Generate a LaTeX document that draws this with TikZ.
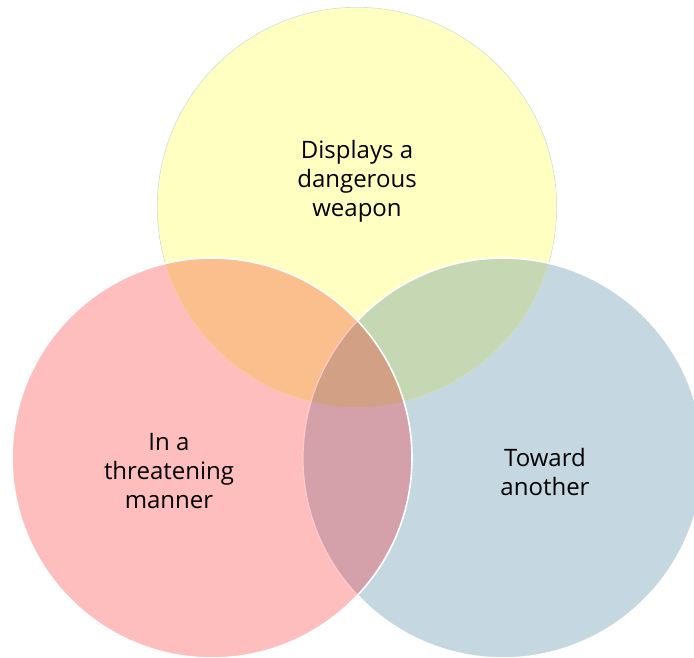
\documentclass[tikz,border=0pt]{standalone}
\usepackage{fontspec}
\setmainfont{Open Sans}
\definecolor{cY}{HTML}{FFFFC1}
\definecolor{cR}{HTML}{FFBEBE}
\definecolor{cB}{HTML}{C5D7E0}
\definecolor{cRY}{HTML}{FBBF8E}
\definecolor{cYB}{HTML}{C5D7B3}
\definecolor{cRB}{HTML}{D4A0A9}
\definecolor{cRYB}{HTML}{D2A084}
\definecolor{faintR}{HTML}{FFCACA}
\definecolor{faintO}{HTML}{FCCB9E}
\tikzset{
  ring/.style={draw=white, line width=1.6pt},
  faint/.style={draw=#1, line width=1.2pt},
  lbl/.style={align=center, font=\fontsize{24}{29}\selectfont, text=black, inner sep=0pt}
}
\begin{document}
\begin{tikzpicture}[x=1pt,y=-1pt]
\useasboundingbox (0,0) rectangle (694,658);
\clip (0,0) rectangle (694,658);
\coordinate (cy) at (357,207);
\coordinate (cr) at (212,458);
\coordinate (cb) at (503,458);
% yellow
\fill[cY] (cy) circle[radius=200];
\draw[ring] (cy) circle[radius=200];
% blue
\fill[cB] (cb) circle[radius=200];
\begin{scope}
  \clip (cy) circle[radius=200];
  \fill[cYB] (cb) circle[radius=200];
  \draw[faint=cYB!80!white] (cy) circle[radius=200];
\end{scope}
\draw[ring] (cb) circle[radius=200];
% red
\fill[cR] (cr) circle[radius=200];
\begin{scope}
  \clip (cr) circle[radius=200];
  \begin{scope}
    \clip (cy) circle[radius=200];
    \fill[cRY] (cr) circle[radius=200];
    \draw[faint=faintO] (cy) circle[radius=200];
  \end{scope}
  \begin{scope}
    \clip (cb) circle[radius=200];
    \fill[cRB] (cr) circle[radius=200];
    \begin{scope}
      \clip (cy) circle[radius=200];
      \fill[cRYB] (cr) circle[radius=200];
    \end{scope}
  \end{scope}
  \draw[faint=faintR] (cb) circle[radius=200];
\end{scope}
\draw[ring] (cr) circle[radius=200];
% labels
\node[lbl] (tY) at (357,181) {Displays a\\dangerous\\weapon};
\node[lbl] (tR) at (169,471) {In a\\threatening\\manner};
\node[lbl] (tB) at (545,472) {Toward\\another};
\end{tikzpicture}
\end{document}
